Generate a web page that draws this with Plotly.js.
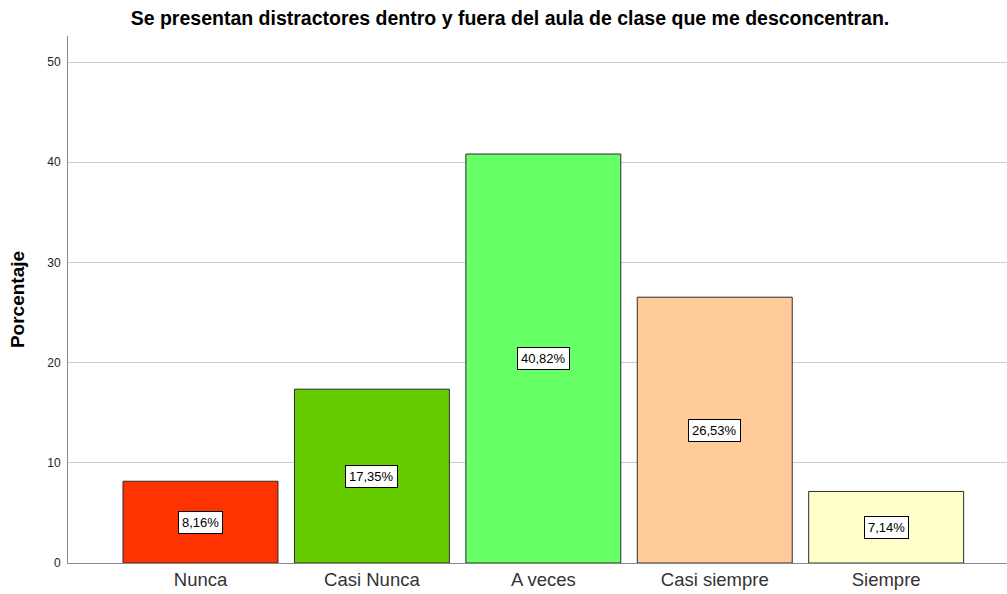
<!DOCTYPE html>
<html>
<head>
<meta charset="utf-8">
<script src="https://cdn.plot.ly/plotly-3.0.1.min.js"></script>
<style>html,body{margin:0;padding:0;background:#fff;}#chart{width:1007px;height:594px;}</style>
</head>
<body>
<div id="chart"></div>
<script>
const categories = ["Nunca", "Casi Nunca", "A veces", "Casi siempre", "Siempre"];
const percentages = [8.16, 17.35, 40.82, 26.53, 7.14];
const barColors = ["#FF3300", "#66CC00", "#66FF66", "#FFCC99", "#FFFFCC"];
const yTicks = [0, 10, 20, 30, 40, 50];

const FONT = "Liberation Sans, Arial, sans-serif";

const trace = {
  type: "bar",
  x: categories,
  y: percentages,
  width: 0.904,
  marker: { color: barColors, line: { color: "#2b2b2b", width: 1 } },
  hoverinfo: "x+y"
};

const annotations = categories.map((c, i) => ({
  x: c, y: percentages[i] / 2, xref: "x", yref: "y",
  text: percentages[i].toFixed(2).replace(".", ",") + "%",
  showarrow: false,
  font: { family: FONT, size: 13, color: "#000" },
  bgcolor: "#ffffff", bordercolor: "#000000", borderwidth: 1, borderpad: 3
}));

const layout = {
  width: 1007, height: 594,
  margin: { l: 68, r: 0, t: 36, b: 31, pad: 0 },
  paper_bgcolor: "#ffffff", plot_bgcolor: "#ffffff",
  showlegend: false,
  font: { family: FONT, color: "#000" },
  title: {
    text: "<b>Se presentan distractores dentro y fuera del aula de clase que me desconcentran.</b>",
    font: { family: FONT, size: 19.5, color: "#000" },
    x: 0.4707, xanchor: "center", xref: "paper",
    y: 1 - 18 / 594, yanchor: "middle", yref: "container"
  },
  xaxis: {
    type: "category",
    range: [-0.773, 4.705],
    showline: true, linecolor: "#888888", linewidth: 1,
    showgrid: false, zeroline: false, ticks: "",
    tickfont: { family: FONT, size: 18.5, color: "#333333" },
    automargin: false, fixedrange: true
  },
  yaxis: {
    range: [0, 52.6],
    tickvals: yTicks,
    showline: true, linecolor: "#888888", linewidth: 1,
    showgrid: true, gridcolor: "#cccccc", gridwidth: 1,
    zeroline: false, ticks: "",
    tickfont: { family: FONT, size: 12, color: "#222222" },
    ticklabelstandoff: 4,
    title: { text: "<b>Porcentaje</b>", font: { family: FONT, size: 19, color: "#000" }, standoff: 17 },
    automargin: false, fixedrange: true
  },
  annotations: annotations
};

Plotly.newPlot("chart", [trace], layout, { displayModeBar: false, staticPlot: true });
</script>
</body>
</html>
